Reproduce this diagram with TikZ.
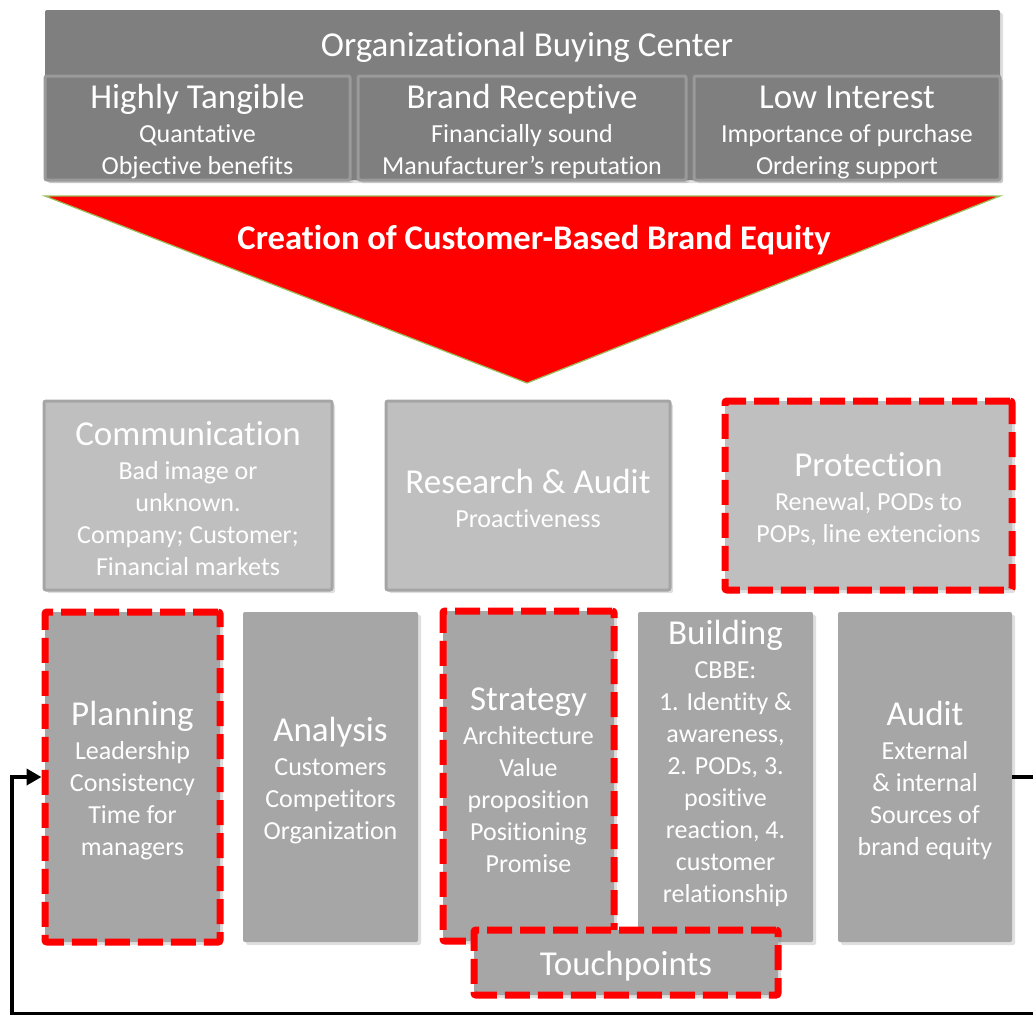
\documentclass[tikz,border=0pt]{standalone}
\usepackage{fontspec}
\setmainfont[Ligatures=CommonOff]{Carlito}
\usetikzlibrary{arrows.meta,shadows}
\definecolor{topgray}{HTML}{7F7F7F}
\definecolor{topedge}{HTML}{9A9A9A}
\definecolor{midgray}{HTML}{BFBFBF}
\definecolor{midedge}{HTML}{A5A5A5}
\definecolor{lowgray}{HTML}{A6A6A6}
\definecolor{wedgeline}{HTML}{9BBB59}
\newcommand{\hd}[1]{{\fontsize{17.5}{18}\selectfont\rule{0pt}{15.5pt}#1}}
\begin{document}
\begin{tikzpicture}[x=0.5pt,y=-0.5pt,
  box/.style={rectangle, inner sep=0pt, align=center, text=white, rounded corners=1pt,
    font=\fontsize{13}{16}\selectfont,
    drop shadow={shadow xshift=1.5pt, shadow yshift=-1.5pt, opacity=0.25}},
  topbox/.style={box, fill=topgray, draw=topedge, line width=1.5pt, minimum height=52pt},
  midbox/.style={box, fill=midgray, draw=midedge, line width=1.5pt, minimum height=94.5pt},
  lowbox/.style={box, fill=lowgray, minimum height=165pt},
  reddash/.style={draw=red, line width=3.5pt, dash pattern=on 12.5pt off 4pt}]
\useasboundingbox (0,0) rectangle (1033,1014);
\clip (0,0) rectangle (1033,1014);
%\tikzstyle{every node}=[draw];
\node [box, fill=topgray, minimum width=477.5pt, minimum height=85pt] (center) at (522.5,95) {};
\node [text=white, font=\fontsize{17.5}{18}\selectfont] (centertitle) at (527,47) {Organizational Buying Center};
\node [topbox, minimum width=152.5pt] (tangible) at (197.5,128) {\hd{Highly Tangible}\\[1pt] Quantative\\ Objective benefits};
\node [topbox, minimum width=164pt] (receptive) at (522,128) {\hd{Brand Receptive}\\[1pt] Financially sound\\ Manufacturer’s reputation};
\node [topbox, minimum width=153pt] (interest) at (847,128) {\hd{Low Interest}\\[1pt] Importance of purchase\\ Ordering support};
% funnel
\filldraw [fill=red, draw=wedgeline, line width=0.6pt] (45,196) -- (1000,196) -- (527,383) -- cycle;
\node [text=white, font=\bfseries\fontsize{17.3}{18}\selectfont] (cbbe) at (534,240) {Creation of Customer-Based Brand Equity};
% middle row
\node [midbox, minimum width=144pt] (comm) at (188,495.5) {\hd{Communication}\\[1pt] Bad image or\\ unknown.\\ Company; Customer;\\ Financial markets};
\node [midbox, minimum width=142pt] (research) at (528,495.5) {\hd{Research \& Audit}\\[1pt] Proactiveness};
\node [midbox, fill=midgray, reddash, minimum width=143.5pt] (protection) at (868.5,495.5) {\hd{Protection}\\[1pt] Renewal, PODs to\\ POPs, line extencions};
% bottom row
\node [lowbox, reddash, minimum width=87.5pt] (planning) at (132.5,777) {\hd{Planning}\\[1pt] Leadership\\ Consistency\\ Time for\\ managers};
\node [lowbox, minimum width=87.5pt] (analysis) at (330.5,777) {\hd{Analysis}\\[1pt] Customers\\ Competitors\\ Organization};
\node [lowbox, reddash, minimum width=85.5pt] (strategy) at (528.5,776) {\hd{Strategy}\\[1pt] Architecture\\ Value\\ proposition\\ Positioning\\ Promise};
\node [lowbox, minimum width=87.5pt, text depth=19pt] (building) at (725.5,777) {\hd{Building}\\[1pt] CBBE:\\ 1. Identity \&\\ awareness,\\ 2. PODs, 3.\\ positive\\ reaction, 4.\\ customer\\ relationship};
\node [lowbox, minimum width=87pt] (audit) at (925,777) {\hd{Audit}\\[1pt] External\\ \& internal\\ Sources of\\ brand equity};
\node [lowbox, reddash, minimum width=152pt, minimum height=32.5pt] (touch) at (626,962.5) {\hd{Touchpoints}};
% feedback loop
\coordinate (loopr) at (1045,1014);
\coordinate (loopl) at (12,1014);
\draw [line width=2pt, -{Triangle[length=7.5pt,width=8pt]}] (audit.east) -| (loopr) -- (loopl) |- (planning.west);
\end{tikzpicture}
\end{document}
